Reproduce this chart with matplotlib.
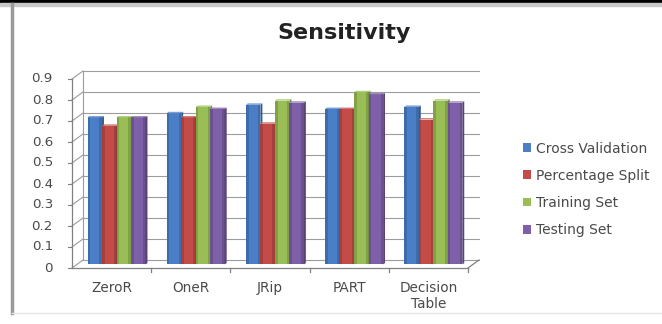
import matplotlib
matplotlib.use("Agg")
import matplotlib.pyplot as plt
from matplotlib.patches import Polygon, Rectangle
from matplotlib.lines import Line2D
import numpy as np

categories = ["ZeroR", "OneR", "JRip", "PART", "Decision\nTable"]
series_names = ["Cross Validation", "Percentage Split", "Training Set", "Testing Set"]
cross_validation = [0.70, 0.72, 0.76, 0.74, 0.75]
percentage_split = [0.66, 0.70, 0.67, 0.74, 0.69]
training_set = [0.70, 0.75, 0.78, 0.82, 0.78]
testing_set = [0.70, 0.74, 0.77, 0.81, 0.77]
y_ticks = [0, 0.1, 0.2, 0.3, 0.4, 0.5, 0.6, 0.7, 0.8, 0.9]

series = [cross_validation, percentage_split, training_set, testing_set]
colors = ["#4A7FC8", "#C44C48", "#98BE55", "#7E60A8"]

plt.rcParams["font.family"] = ["DejaVu Sans"]
text_c = "#4a4a4a"

W, H = 662, 324
fig = plt.figure(figsize=(W / 100, H / 100), dpi=100)
fig.patch.set_facecolor("white")

# frame decorations
fig.patches.append(Rectangle((0, 1 - 3 / H), 1, 3 / H, transform=fig.transFigure,
                             color="black", zorder=0))
fig.patches.append(Rectangle((0, 1 - 6 / H), 1, 3 / H, transform=fig.transFigure,
                             color="#c8c8c8", zorder=0))
fig.lines.append(Line2D([12 / W, 12 / W], [1 - 4 / H, 1 - 313 / H],
                        transform=fig.transFigure, color="#9a9a9a", lw=2.5))
fig.lines.append(Line2D([12 / W, 1], [1 - 313 / H, 1 - 313 / H],
                        transform=fig.transFigure, color="#e6e6e6", lw=1))

left, bottom, right, top = 72, 268, 468, 79
ax = fig.add_axes([left / W, 1 - bottom / H, (right - left) / W, (bottom - top) / H])
ax.set_xlim(-0.5, len(categories) - 0.5)
ax.set_ylim(0, 0.9)
ax.axis("off")

px_x = (right - left) / len(categories)
px_y = (bottom - top) / 0.9
dx = 11 / px_x
dy = 8 / px_y
x0, x1 = -0.5, len(categories) - 0.5
grid_c = "#9c9c9c"

# back wall and side wall gridlines
for t in y_ticks:
    ax.plot([x0 + dx, x1 + dx], [t + dy, t + dy], color=grid_c, lw=0.8, clip_on=False, zorder=1)
    ax.plot([x0, x0 + dx], [t, t + dy], color=grid_c, lw=0.8, clip_on=False, zorder=1)
    ax.plot([x0 - 0.05, x0], [t, t], color="#808080", lw=0.8, clip_on=False, zorder=1)
    ax.text(x0 - 0.24, t, f"{t:g}", ha="right", va="center", fontsize=9.6,
            color=text_c)
ax.plot([x0 + dx, x0 + dx], [dy, 0.9 + dy], color=grid_c, lw=0.8, clip_on=False, zorder=1)
ax.plot([x0, x0], [0, 0.9], color="#808080", lw=0.9, clip_on=False, zorder=1)
ax.plot([x0, x1], [0, 0], color="#808080", lw=0.9, clip_on=False, zorder=1)
ax.plot([x1, x1 + dx], [0, dy], color="#808080", lw=0.9, clip_on=False, zorder=1)
for b in np.arange(0.5, len(categories), 1.0):
    ax.plot([b, b], [0, -4 / px_y], color="#808080", lw=0.9, clip_on=False, zorder=1)

# 3D-looking clustered bars
bw = 0.183
f0, f1 = 0.45, 0.62
xc = np.arange(len(categories))
for i, (vals, col) in enumerate(zip(series, colors)):
    xs = xc + (i - 1.5) * bw + f0 * dx
    ax.bar(xs, vals, width=bw, bottom=f0 * dy, color=col, edgecolor="none",
           zorder=3 + i, label=series_names[i])
    for xi, v in zip(xs, vals):
        xl, xr = xi - bw / 2, xi + bw / 2
        yb, yt = f0 * dy, v + f0 * dy
        ddx, ddy = (f1 - f0) * dx, (f1 - f0) * dy
        side = [[xr, yb], [xr + ddx, yb + ddy], [xr + ddx, yt + ddy], [xr, yt]]
        ax.add_patch(Polygon(side, closed=True, facecolor=col, edgecolor="none", zorder=3 + i))
        ax.add_patch(Polygon(side, closed=True, facecolor="black", alpha=0.3,
                             edgecolor="none", zorder=3 + i))
        topf = [[xl, yt], [xr, yt], [xr + ddx, yt + ddy], [xl + ddx, yt + ddy]]
        ax.add_patch(Polygon(topf, closed=True, facecolor=col, edgecolor="none", zorder=3 + i))
        ax.add_patch(Polygon(topf, closed=True, facecolor="white", alpha=0.25,
                             edgecolor="none", zorder=3 + i))
        # darker rims on the front face
        ax.add_patch(Rectangle((xl, yb), bw * 0.18, v, facecolor="black", alpha=0.15,
                               edgecolor="none", zorder=3 + i))
        ax.add_patch(Rectangle((xr - bw * 0.18, yb), bw * 0.18, v, facecolor="black",
                               alpha=0.15, edgecolor="none", zorder=3 + i))

# category labels
for c, name in zip(xc, categories):
    ax.text(c, -13 / px_y, name, ha="center", va="top", fontsize=9.8, color=text_c,
            linespacing=1.2)

# title
fig.text(344 / W, 1 - 33 / H, "Sensitivity", ha="center", va="center", fontsize=16,
         fontweight="bold", color="#222222")

# legend
handles = [Rectangle((0, 0), 1, 1, facecolor=c, edgecolor="none") for c in colors]
fig.legend(handles, series_names, loc="upper left", bbox_to_anchor=(517 / W, 1 - 136 / H),
           frameon=False, prop={"size": 10}, handlelength=0.6, handleheight=0.6,
           handletextpad=0.4, labelspacing=0.95, labelcolor=text_c, borderaxespad=0)

fig.savefig("out.png", dpi=100, facecolor="white")
